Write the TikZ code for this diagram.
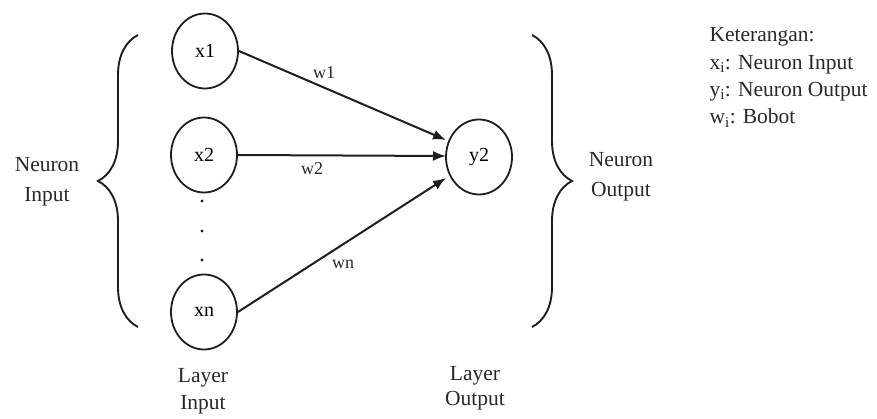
\documentclass[tikz,border=0pt]{standalone}
\usepackage{fontspec}
\setmainfont{Liberation Serif}
\usetikzlibrary{shapes.geometric,arrows.meta,decorations.pathreplacing}
\definecolor{inkgray}{RGB}{30,30,30}
\definecolor{labelgray}{RGB}{40,40,40}

\begin{document}
\begin{tikzpicture}[x=1pt,y=-1pt,
    neuron/.style={draw=inkgray,line width=1.8pt,ellipse,minimum width=66pt,minimum height=75pt,inner sep=0pt,font=\fontsize{20}{22}\selectfont},
    link/.style={draw=inkgray,line width=2pt,-{Latex[length=13pt,width=10pt]}},
    curly/.style={draw=inkgray,line width=1.9pt,decorate,decoration={brace,amplitude=40pt}},
    caption/.style={align=center,text=labelgray,font=\fontsize{21.5}{27}\selectfont},
    weight/.style={text=labelgray,font=\fontsize{18}{20}\selectfont},
    legend/.style={anchor=west,text=labelgray,font=\fontsize{21.5}{23}\selectfont}]
  \useasboundingbox (0,0) rectangle (877,419);
  \node[neuron] (x1) at (205,51) {x1};
  \node[neuron] (x2) at (204,155) {x2};
  \node[neuron] (xn) at (204,312) {xn};
  \node[neuron] (y2) at (479,157) {y2};
  \foreach \d in {201,231,260}{
    \fill[inkgray] (202,\d) circle (1.6);
  }
  \coordinate (in1) at (446,140);
  \coordinate (in2) at (446,156);
  \coordinate (inn) at (446,178);
  \draw[link] (x1.east) -- (in1);
  \draw[link] (x2.east) -- (in2);
  \draw[link] (xn.east) -- (inn);
  \node[weight] (w1) at (324,73) {w1};
  \node[weight] (w2) at (312,169) {w2};
  \node[weight] (wn) at (343,264) {wn};
  % kurung kurawal
  \draw[curly] (138,327) -- (138,35);
  \draw[curly] (532,35) -- (532,327);
  \node[caption,font=\fontsize{21.5}{30}\selectfont] (nin) at (47,182) {Neuron\\Input};
  \node[caption,font=\fontsize{21.5}{30}\selectfont] (nout) at (621,177) {Neuron\\Output};
  \node[caption] (lin) at (203,391) {Layer\\Input};
  \node[caption,font=\fontsize{21.5}{25}\selectfont] (lout) at (475,388) {Layer\\Output};
  % keterangan
  \node[legend] (ket) at (706,37) {Keterangan:};
  \node[legend] (kx) at (706,65) {x\textsubscript{i}: Neuron Input};
  \node[legend] (ky) at (706,92) {y\textsubscript{i}: Neuron Output};
  \node[legend] (kw) at (706,118) {w\textsubscript{i}: Bobot};
\end{tikzpicture}
\end{document}
